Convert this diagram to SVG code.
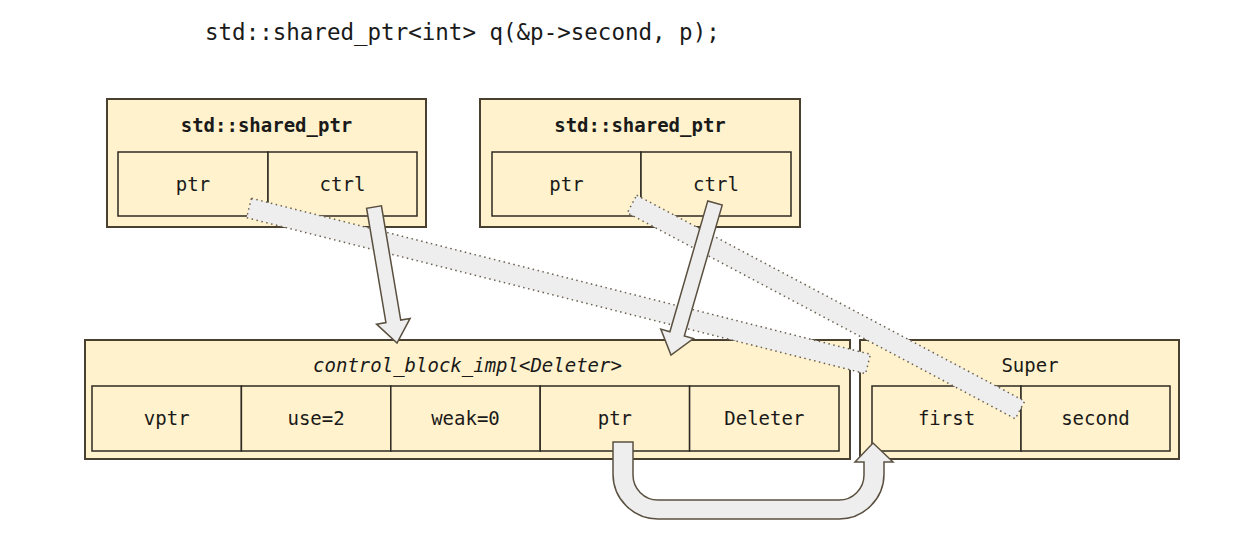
<svg xmlns="http://www.w3.org/2000/svg" width="1256" height="536" viewBox="0 0 1256 536">
<style>
.box{fill:#fff2cc;stroke:#4a4030;stroke-width:2}
.cell{fill:#fff2cc;stroke:#2e2a22;stroke-width:1.5}
.t{font-family:"DejaVu Sans Mono","Liberation Mono",monospace;font-size:19px;fill:#1a1a1a;text-anchor:middle}
.b{font-weight:bold}
.i{font-style:italic}
.arr{fill:#eeeeee;stroke:#5a5040;stroke-width:1.5;stroke-linejoin:miter}
.dot{fill:#eeeeee;stroke:#6a6050;stroke-width:1.5;stroke-dasharray:1.5 3.5}
</style>
<rect width="1256" height="536" fill="#ffffff"/>
<text x="205" y="40" style="font-family:'DejaVu Sans Mono','Liberation Mono',monospace;font-size:22.5px;fill:#1a1a1a">std::shared_ptr&lt;int&gt; q(&amp;p-&gt;second, p);</text>

<g id="sp1">
<rect class="box" x="107" y="99" width="319" height="128"/>
<text class="t b" x="266.5" y="132">std::shared_ptr</text>
<rect class="cell" x="118" y="152" width="150" height="64"/>
<rect class="cell" x="268" y="152" width="149" height="64"/>
<text class="t" x="193" y="191">ptr</text>
<text class="t" x="342.5" y="191">ctrl</text>
</g>

<g id="sp2">
<rect class="box" x="480" y="99" width="320" height="128"/>
<text class="t b" x="640" y="132">std::shared_ptr</text>
<rect class="cell" x="492" y="152" width="149" height="64"/>
<rect class="cell" x="641" y="152" width="150" height="64"/>
<text class="t" x="566.5" y="191">ptr</text>
<text class="t" x="716" y="191">ctrl</text>
</g>

<g id="cb">
<rect class="box" x="85" y="340" width="765" height="119"/>
<text class="t i" x="467.5" y="372">control_block_impl&lt;Deleter&gt;</text>
<rect class="cell" x="92" y="386" width="149.4" height="65"/>
<rect class="cell" x="241.4" y="386" width="149.4" height="65"/>
<rect class="cell" x="390.8" y="386" width="149.4" height="65"/>
<rect class="cell" x="540.2" y="386" width="149.4" height="65"/>
<rect class="cell" x="689.6" y="386" width="149.4" height="65"/>
<text class="t" x="166.7" y="425">vptr</text>
<text class="t" x="316.1" y="425">use=2</text>
<text class="t" x="465.5" y="425">weak=0</text>
<text class="t" x="614.9" y="425">ptr</text>
<text class="t" x="764.3" y="425">Deleter</text>
</g>

<g id="super">
<rect class="box" x="860" y="340" width="319" height="119"/>
<text class="t" x="1030" y="372">Super</text>
<rect class="cell" x="872" y="386" width="149" height="65"/>
<rect class="cell" x="1021" y="386" width="149" height="65"/>
<text class="t" x="946.5" y="425">first</text>
<text class="t" x="1095.5" y="425">second</text>
</g>

<g id="connectors">
<polygon class="dot" points="251.44,198.30 870.44,354.30 865.56,373.70 246.56,217.70"/>
<polygon class="dot" points="636.69,195.17 1024.69,401.17 1015.31,418.83 627.31,212.83"/>
<polygon class="arr" points="381.4,205.75 400.73,320.06 410.09,318.47 397,343 376.57,324.15 385.93,322.56 366.6,208.25"/>
<polygon class="arr" points="722.21,205.09 684.33,335.95 693.46,338.59 671,355 660.78,329.13 669.91,331.78 707.79,200.91"/>
<path class="arr" d="M613,442 L633,442 L633,475 A25,25 0 0 0 658,500 L839,500 A25,25 0 0 0 864,475 L864,462 L855,462 L873,443 L893,462 L884,462 L884,474 A45,45 0 0 1 839,519 L658,519 A45,45 0 0 1 613,474 Z"/>
</g>
</svg>
